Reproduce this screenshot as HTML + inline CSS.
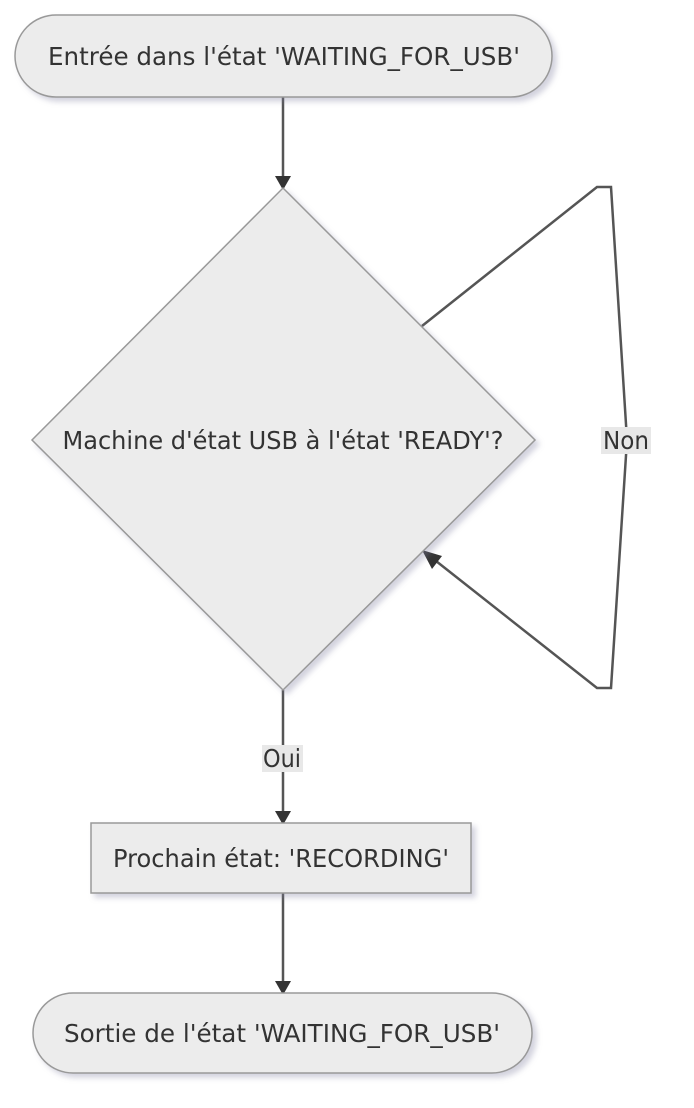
<!DOCTYPE html>
<html><head><meta charset="utf-8"><style>
html,body{margin:0;padding:0;background:#fff;}
svg{display:block;font-family:"DejaVu Sans","Liberation Sans",sans-serif;}
</style></head><body>
<svg width="694" height="1108" viewBox="0 0 694 1108">
<defs>
<filter id="sh" x="-10%" y="-10%" width="130%" height="130%"><feDropShadow dx="4" dy="4" stdDeviation="3" flood-color="#8080a0" flood-opacity="0.35"/></filter>
</defs>
<g fill="none" stroke="#555" stroke-width="2.5">
<path d="M283 97 L283 176"/>
<path d="M422 326 L597 187 L611 187 L627 440 L611 688 L597 688 L436 561"/>
<path d="M283 690 L283 811"/>
<path d="M283 893 L283 981"/>
</g>
<g fill="#333">
<polygon points="275,176 291,176 283,190"/>
<polygon points="422,550 442,556 432,569"/>
<polygon points="275,811 291,811 283,825"/>
<polygon points="275,981 291,981 283,995"/>
</g>
<rect x="15" y="15" width="537" height="82" rx="41" fill="#ececec" stroke="#999" stroke-width="1.5" filter="url(#sh)"/>
<polygon points="283,188 535,440 283,690 32,440" fill="#ececec" stroke="#999" stroke-width="1.5" filter="url(#sh)"/>
<rect x="91" y="823" width="380" height="70" fill="#ececec" stroke="#999" stroke-width="1.5" filter="url(#sh)"/>
<rect x="33" y="993" width="499" height="80" rx="40" fill="#ececec" stroke="#999" stroke-width="1.5" filter="url(#sh)"/>
<rect x="601" y="427" width="50" height="27" fill="#e8e8e8"/>
<rect x="262" y="745" width="41" height="27" fill="#e8e8e8"/>
<g fill="#333" font-size="24.5" text-anchor="middle">
<text x="284" y="65" textLength="472" lengthAdjust="spacingAndGlyphs">Entrée dans l'état 'WAITING_FOR_USB'</text>
<text x="283" y="449" textLength="441" lengthAdjust="spacingAndGlyphs">Machine d'état USB à l'état 'READY'?</text>
<text x="626" y="449" textLength="46" lengthAdjust="spacingAndGlyphs">Non</text>
<text x="282" y="767" textLength="38" lengthAdjust="spacingAndGlyphs">Oui</text>
<text x="281" y="867" textLength="336" lengthAdjust="spacingAndGlyphs">Prochain état: 'RECORDING'</text>
<text x="282" y="1042" textLength="436" lengthAdjust="spacingAndGlyphs">Sortie de l'état 'WAITING_FOR_USB'</text>
</g>
</svg>
</body></html>
